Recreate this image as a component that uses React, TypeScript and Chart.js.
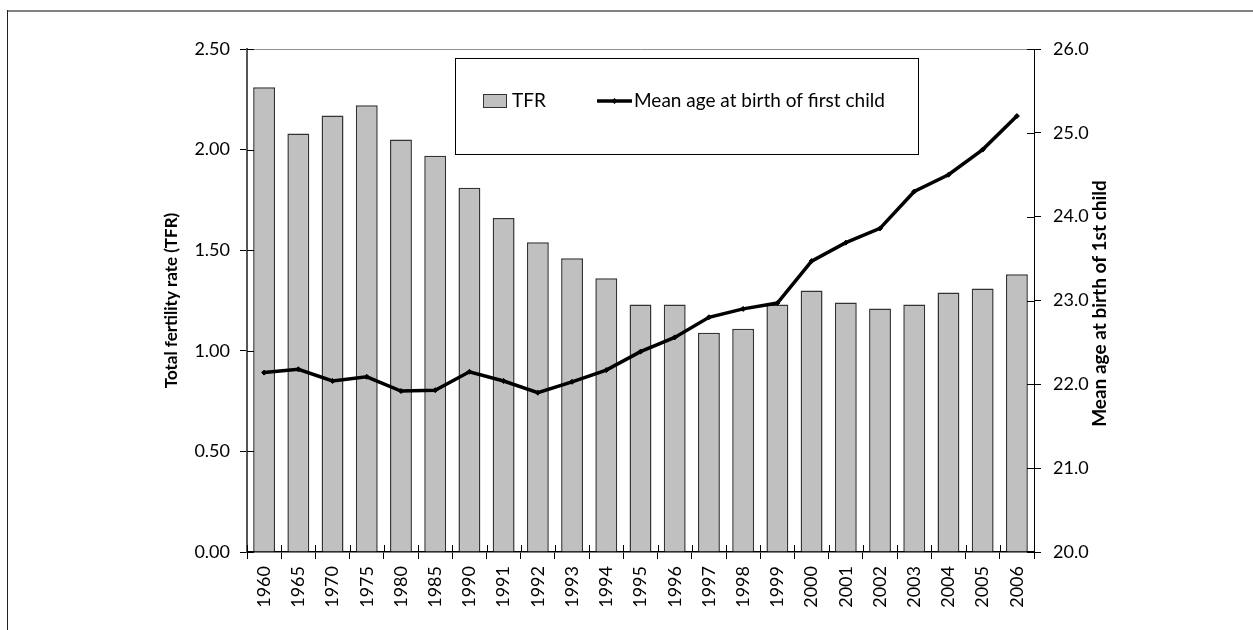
import React, { useEffect, useRef } from "react";
import { Chart, registerables } from "chart.js";

Chart.register(...registerables);

const years = ["1960", "1965", "1970", "1975", "1980", "1985", "1990", "1991", "1992", "1993", "1994", "1995", "1996", "1997", "1998", "1999", "2000", "2001", "2002", "2003", "2004", "2005", "2006"];
const tfr = [2.31, 2.08, 2.17, 2.22, 2.05, 1.97, 1.81, 1.66, 1.54, 1.46, 1.36, 1.23, 1.23, 1.09, 1.11, 1.23, 1.30, 1.24, 1.21, 1.23, 1.29, 1.31, 1.38];
const meanAge = [22.14, 22.18, 22.04, 22.09, 21.92, 21.93, 22.15, 22.04, 21.90, 22.03, 22.17, 22.39, 22.56, 22.80, 22.90, 22.97, 23.47, 23.69, 23.86, 24.30, 24.50, 24.80, 25.20];
const tfrLabel = "TFR";
const ageLabel = "Mean age at birth of first child";
const leftTitle = "Total fertility rate (TFR)";
const rightTitle = "Mean age at birth of 1st child";

const FONT = "Lato";
const BAR_FILL = "#C0C0C0";
const BAR_EDGE = "#333333";

const framePlugin = {
  id: "frame",
  beforeDraw(chart: any) {
    const ctx = chart.ctx;
    ctx.save();
    ctx.fillStyle = "#ffffff";
    ctx.fillRect(0, 0, chart.width, chart.height);
    ctx.strokeStyle = "#808080";
    ctx.lineWidth = 2;
    ctx.beginPath();
    ctx.moveTo(7, 11);
    ctx.lineTo(chart.width, 11);
    ctx.stroke();
    ctx.strokeStyle = "#222222";
    ctx.lineWidth = 1;
    ctx.beginPath();
    ctx.moveTo(7.5, 10);
    ctx.lineTo(7.5, chart.height);
    ctx.stroke();
    ctx.restore();
  },
  afterDraw(chart: any) {
    const ctx = chart.ctx;
    const a = chart.chartArea;
    ctx.save();
    // top border of plot area
    ctx.strokeStyle = "#909090";
    ctx.lineWidth = 1;
    ctx.beginPath();
    ctx.moveTo(a.left, Math.round(a.top) + 0.5);
    ctx.lineTo(a.right, Math.round(a.top) + 0.5);
    ctx.stroke();
    // inward tick marks
    ctx.strokeStyle = "#000";
    ctx.lineWidth = 1;
    const y = chart.scales.y;
    y.ticks.forEach((t: any) => {
      const py = Math.round(y.getPixelForValue(t.value)) + 0.5;
      ctx.beginPath();
      ctx.moveTo(a.left, py);
      ctx.lineTo(a.left + 7, py);
      ctx.stroke();
    });
    const y1 = chart.scales.y1;
    y1.ticks.forEach((t: any) => {
      const py = Math.round(y1.getPixelForValue(t.value)) + 0.5;
      ctx.beginPath();
      ctx.moveTo(a.right - 7, py);
      ctx.lineTo(a.right, py);
      ctx.stroke();
    });
    const n = years.length;
    const w = (a.right - a.left) / n;
    for (let i = 0; i <= n; i++) {
      const px = Math.round(a.left + i * w) + 0.5;
      ctx.beginPath();
      ctx.moveTo(px, a.bottom - 7);
      ctx.lineTo(px, a.bottom);
      ctx.stroke();
    }

    // right axis title, reading bottom to top
    ctx.save();
    ctx.translate(1100, (a.top + a.bottom) / 2 + 3);
    ctx.rotate(-Math.PI / 2);
    ctx.fillStyle = "#000";
    ctx.font = `bold 19px ${FONT}`;
    ctx.textAlign = "center";
    ctx.textBaseline = "middle";
    ctx.fillText(rightTitle, 0, 0);
    ctx.restore();

    // legend
    const bx = 455, by = 58, bw = 463, bh = 96;
    ctx.fillStyle = "#fff";
    ctx.fillRect(bx, by, bw, bh);
    ctx.strokeStyle = "#000";
    ctx.lineWidth = 1;
    ctx.strokeRect(bx + 0.5, by + 0.5, bw, bh);
    const cy = 101;
    ctx.fillStyle = BAR_FILL;
    ctx.fillRect(483, cy - 7, 24, 14);
    ctx.strokeStyle = BAR_EDGE;
    ctx.strokeRect(483.5, cy - 6.5, 23, 13);
    ctx.fillStyle = "#000";
    ctx.font = `19px ${FONT}`;
    ctx.textBaseline = "middle";
    ctx.textAlign = "left";
    ctx.fillText(tfrLabel, 512, cy);
    ctx.strokeStyle = "#000";
    ctx.lineWidth = 3.5;
    ctx.beginPath();
    ctx.moveTo(597, cy);
    ctx.lineTo(632, cy);
    ctx.stroke();
    ctx.beginPath();
    ctx.moveTo(614.5, cy - 3);
    ctx.lineTo(617.5, cy);
    ctx.lineTo(614.5, cy + 3);
    ctx.lineTo(611.5, cy);
    ctx.closePath();
    ctx.fill();
    ctx.fillText(ageLabel, 634, cy);
    ctx.restore();
  },
};

export default function App() {
  const ref = useRef<HTMLCanvasElement | null>(null);
  useEffect(() => {
    if (!ref.current) return;
    const tickFont = { family: FONT, size: 18 };
    const titleFont = { family: FONT, size: 17, weight: "bold" as const };
    const chart = new Chart(ref.current, {
      type: "bar",
      data: {
        labels: years,
        datasets: [
          {
            type: "line",
            label: ageLabel,
            data: meanAge,
            yAxisID: "y1",
            borderColor: "#000",
            backgroundColor: "#000",
            borderWidth: 3.5,
            pointStyle: "rectRot",
            pointRadius: 2.5,
            pointBackgroundColor: "#000",
            pointBorderColor: "#000",
            pointBorderWidth: 1,
            tension: 0,
            order: 0,
          } as any,
          {
            type: "bar",
            label: tfrLabel,
            data: tfr,
            yAxisID: "y",
            backgroundColor: BAR_FILL,
            borderColor: BAR_EDGE,
            borderWidth: 1.5,
            categoryPercentage: 1,
            barPercentage: 0.64,
            order: 1,
          } as any,
        ],
      },
      options: {
        responsive: false,
        animation: false,
        layout: { padding: { left: 157, right: 139, top: 49, bottom: 0 } },
        plugins: { legend: { display: false }, tooltip: { enabled: false } },
        scales: {
          x: {
            offset: true,
            grid: { offset: true, drawOnChartArea: false, tickLength: 7, color: "#000", tickColor: "#000" },
            border: { color: "#000", width: 1.5 },
            ticks: { minRotation: 90, maxRotation: 90, autoSkip: false, font: tickFont, color: "#000", padding: 7 },
            afterFit: (s: any) => { s.height = 78; },
          },
          y: {
            position: "left",
            min: 0,
            max: 2.5,
            grid: { drawOnChartArea: false, tickLength: 7, color: "#000", tickColor: "#000" },
            border: { color: "#555", width: 2 },
            ticks: { stepSize: 0.5, font: tickFont, color: "#000", padding: 10, callback: (v: any) => Number(v).toFixed(2) },
            title: { display: true, text: leftTitle, font: titleFont, color: "#000" },
            afterFit: (s: any) => { s.width = 90; },
          },
          y1: {
            position: "right",
            min: 20,
            max: 26,
            grid: { drawOnChartArea: false, tickLength: 7, color: "#000", tickColor: "#000" },
            border: { color: "#000", width: 1 },
            ticks: { stepSize: 1, font: tickFont, color: "#000", padding: 12, callback: (v: any) => Number(v).toFixed(1) },
            title: { display: false },
            afterFit: (s: any) => { s.width = 80; },
          },
        },
      } as any,
      plugins: [framePlugin],
    });
    return () => chart.destroy();
  }, []);
  return (
    <div style={{ position: "absolute", left: 0, top: 0, width: 1253, height: 630 }}>
      <canvas ref={ref} width={1253} height={630} />
    </div>
  );
}
